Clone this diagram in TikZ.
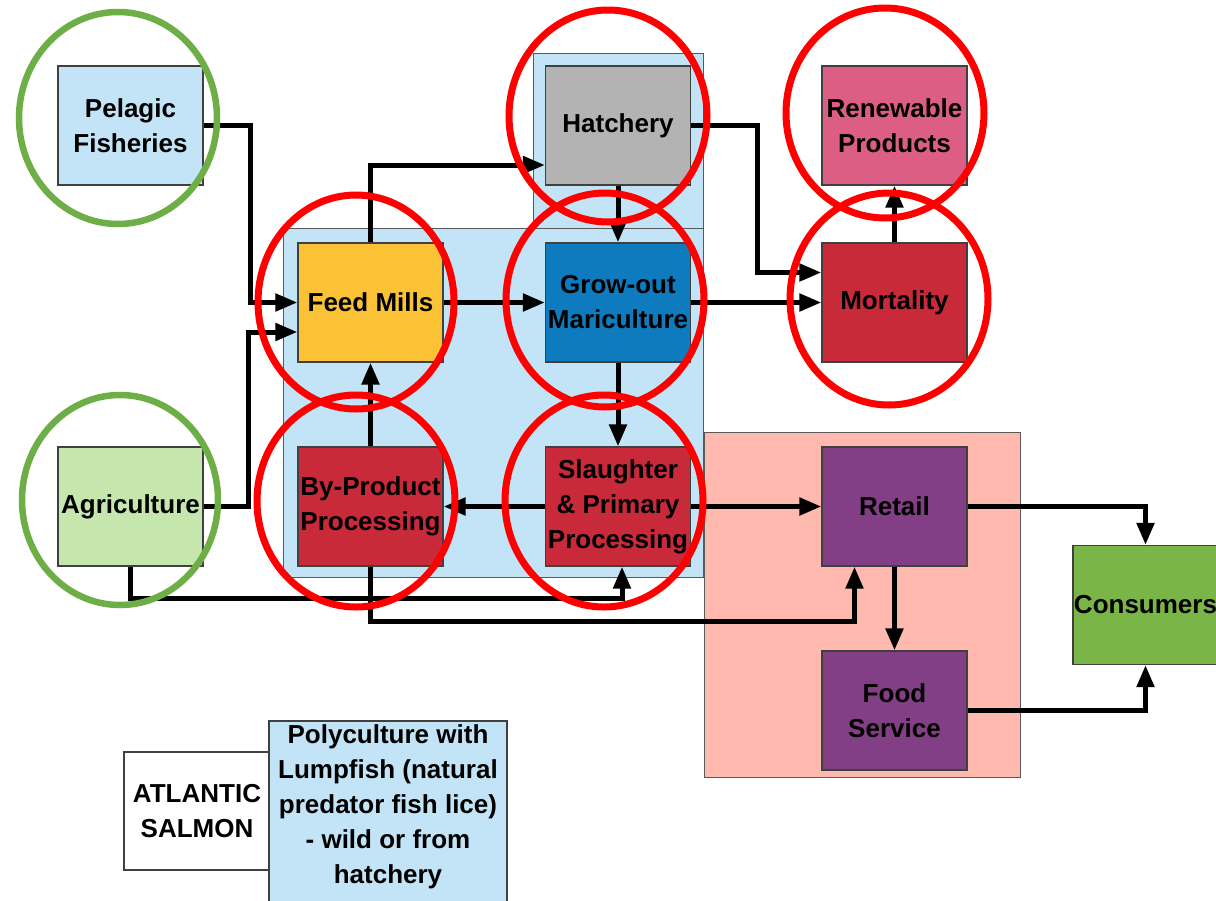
\documentclass[tikz,border=0pt]{standalone}
\usepackage{fontspec}
\setmainfont{Liberation Sans}
\usetikzlibrary{arrows.meta,calc}
\definecolor{lblue}{HTML}{C2E4F6}
\definecolor{feed}{HTML}{FBC236}
\definecolor{hatg}{HTML}{B3B3B3}
\definecolor{grow}{HTML}{0D7BBE}
\definecolor{renp}{HTML}{DD5E85}
\definecolor{mred}{HTML}{C82A3A}
\definecolor{agrg}{HTML}{C5E6AC}
\definecolor{purp}{HTML}{823F86}
\definecolor{cons}{HTML}{7AB547}
\definecolor{pinkr}{HTML}{FFB9AF}
\definecolor{gcirc}{HTML}{6DAE47}
\definecolor{rcirc}{HTML}{FF0000}
\tikzset{
  box/.style={draw=black!75, line width=1.2pt, minimum width=145pt, minimum height=119pt,
    inner sep=0pt, align=center, font=\fontsize{26}{35}\selectfont\bfseries},
  region/.style={draw=black!65, line width=1pt},
  arr/.style={line width=5pt, -{Triangle[length=22pt,width=17pt]}},
  gring/.style={draw=gcirc, line width=6.5pt},
  rring/.style={draw=rcirc, line width=7pt},
  lbl/.style={align=center, inner sep=0pt, font=\fontsize{26}{35}\selectfont\bfseries}
}
\begin{document}
\begin{tikzpicture}[x=1pt,y=-1pt]
\useasboundingbox (0,0) rectangle (1216,900);
\clip (0,0) rectangle (1216,900);
\fill[white] (0,0) rectangle (1216,900);
% regions
\draw[region, fill=lblue] (533,53) rectangle (703,228);
\draw[region, fill=lblue] (283,228) rectangle (703,577);
\draw[region, fill=pinkr] (704,432) rectangle (1020,777);
% boxes
\node[box, fill=lblue] (pel) at (130.5,125.5) {Pelagic\\Fisheries};
\node[box, fill=hatg] (hat) at (618,125.5) {Hatchery};
\node[box, fill=renp] (ren) at (894.5,125.5) {Renewable\\Products};
\node[box, fill=feed] (fm) at (370.5,302.5) {Feed Mills};
\node[box, fill=grow] (gro) at (618,302.5) {Grow-out\\Mariculture};
\node[box, fill=mred] (mort) at (894.5,302.5) {Mortality};
\node[box, fill=agrg] (agr) at (130.5,506.5) {Agriculture};
\node[box, fill=mred] (bp) at (370.5,506.5) {By-Product\\Processing};
\node[box, fill=mred] (sl) at (618,506.5) {Slaughter\\\& Primary\\Processing};
\node[box, fill=purp] (ret) at (894.5,506.5) {Retail};
\node[box, fill=cons] (con) at (1145.5,605) {Consumers};
\node[box, fill=purp] (fs) at (894.5,710.5) {Food\\Service};
% legend
\node[box, fill=white, minimum width=146pt, minimum height=118pt] (atl) at (197,811) {ATLANTIC\\SALMON};
\node[box, fill=lblue, minimum width=238pt, minimum height=184pt] (poly) at (388,813) {};
\node[lbl] (polytext) at (388,807) {Polyculture with\\Lumpfish (natural\\predator fish lice)\\- wild or from\\hatchery};
% connectors
\draw[arr] (pel.east) -- ++(47,0) |- (fm.west);
\draw[arr] (agr.east) -- ++(45,0) |- ([yshift=-29.5pt]fm.west);
\draw[arr] (fm.north) |- ([yshift=-39.5pt]hat.west);
\draw[arr] (fm.east) -- (gro.west);
\draw[arr] (hat.south) -- (gro.north);
\draw[arr] (hat.east) -- ++(66,0) |- ([yshift=30pt]mort.west);
\draw[arr] (gro.east) -- (mort.west);
\draw[arr] (mort.north) -- (ren.south);
\draw[arr] (gro.south) -- (sl.north);
\draw[arr] (sl.west) -- (bp.east);
\draw[arr] (bp.north) -- (fm.south);
\draw[arr] (sl.east) -- (ret.west);
\draw[arr] (agr.south) -- ++(0,32) -| ([xshift=4pt]sl.south);
\draw[arr] (bp.south) -- ++(0,55) -| ([xshift=-40pt]ret.south);
\draw[arr] (ret.east) -| (con.north);
\draw[arr] (ret.south) -- (fs.north);
\draw[arr] (fs.east) -| (con.south);
% rings
\draw[gring] (118,118) ellipse [x radius=99pt, y radius=106pt];
\draw[gring] (120,500) ellipse [x radius=98pt, y radius=105pt];
\draw[rring] (356,302) ellipse [x radius=98pt, y radius=107pt];
\draw[rring] (608,116) ellipse [x radius=99pt, y radius=106pt];
\draw[rring] (605,300) ellipse [x radius=99pt, y radius=107pt];
\draw[rring] (885,113) ellipse [x radius=99pt, y radius=105pt];
\draw[rring] (889,299) ellipse [x radius=99pt, y radius=106pt];
\draw[rring] (356,501) ellipse [x radius=99pt, y radius=106pt];
\draw[rring] (604,501) ellipse [x radius=99pt, y radius=106pt];
\end{tikzpicture}
\end{document}
